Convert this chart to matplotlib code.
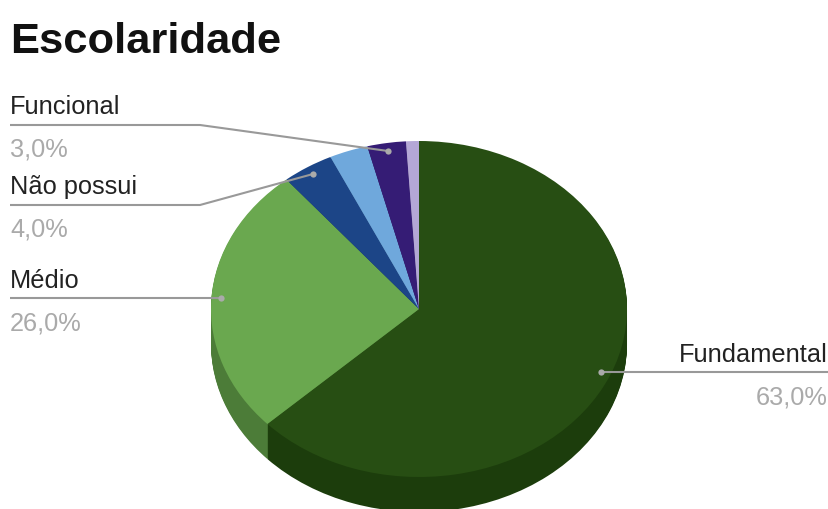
import matplotlib
matplotlib.use('Agg')
import matplotlib.pyplot as plt

plt.rcParams['font.family'] = ['Liberation Sans', 'DejaVu Sans']

# values, two small slices have no label in the picture
categories = ['Fundamental', 'Médio', 'Não possui', '', 'Funcional', '']
values = [63, 26, 4, 3, 3, 1]
top_colors = ['#274e13', '#6aa84f', '#1c4587', '#6fa8dc', '#351c75', '#b4a7d6']
side_colors = ['#1c3d0c', '#4c7c38', '#14325f', '#4f779c', '#251452', '#7e7596']

W, H = 829, 509
cx, cy, rx, ry = 419, 309, 208, 168
depth = 35

fig = plt.figure(figsize=(W / 100, H / 100), dpi=100)
fig.patch.set_facecolor('white')

# pie axes, unit circle gets stretched to the ellipse
ax = fig.add_axes([0, 0, 1, 1])
for d in range(depth, 0, -1):
    ax.pie(values, colors=side_colors, startangle=90, counterclock=False,
           center=(0, -d / ry), wedgeprops={'linewidth': 0})
ax.pie(values, colors=top_colors, startangle=90, counterclock=False,
       wedgeprops={'linewidth': 0})
ax.set_aspect('auto')
ax.set_xlim(-cx / rx, (W - cx) / rx)
ax.set_ylim((cy - H) / ry, cy / ry)
ax.set_axis_off()

# overlay in pixel coordinates for text and leader lines
ov = fig.add_axes([0, 0, 1, 1])
ov.set_xlim(0, W)
ov.set_ylim(H, 0)
ov.set_axis_off()
ov.patch.set_alpha(0)

ov.text(10, 53, 'Escolaridade', fontsize=31.3, fontweight='bold', color='#111111',
        ha='left', va='baseline')

label_color = '#222222'
value_color = '#aaaaaa'
line_color = '#999999'

# name, percent, text x, align, name baseline, percent baseline, leader
labels = [
    ('Funcional', '3,0%', 10, 'left', 114, 157, [(10, 125), (200, 125), (388, 151)]),
    ('Não possui', '4,0%', 10, 'left', 194, 237, [(10, 205), (200, 205), (313, 174)]),
    ('Médio', '26,0%', 10, 'left', 288, 331, [(10, 298), (221, 298)]),
    ('Fundamental', '63,0%', 828, 'right', 362, 405, [(829, 372), (601, 372)]),
]
for name, pct, tx, align, y1, y2, pts in labels:
    xs = [p[0] for p in pts]
    ys = [p[1] for p in pts]
    ov.plot(xs, ys, color=line_color, lw=1.5, solid_capstyle='butt')
    ov.plot(xs[-1], ys[-1], 'o', color='#aaaaaa', ms=4.5, mew=0)
    ov.text(tx, y1, name, fontsize=18.3, color=label_color, ha=align, va='baseline')
    ov.text(tx, y2, pct, fontsize=18.3, color=value_color, ha=align, va='baseline')

plt.savefig('out.png', dpi=100)
